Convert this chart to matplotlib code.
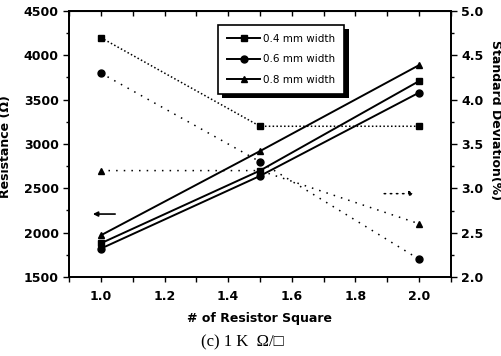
import matplotlib
matplotlib.use("Agg")
import matplotlib.pyplot as plt
from matplotlib.ticker import MultipleLocator
from matplotlib.patches import Rectangle

# =========================
# DATA
# =========================
squares = [1.0, 1.5, 2.0]
labels = ["0.4 mm width", "0.6 mm width", "0.8 mm width"]
markers = ["s", "o", "^"]

# resistance (ohm), solid lines
res_04 = [1880, 2700, 3710]
res_06 = [1820, 2640, 3580]
res_08 = [1970, 2920, 3890]

# standard deviation (%), dotted lines
std_04 = [4.7, 3.7, 3.7]
std_06 = [4.3, 3.3, 2.2]
std_08 = [3.2, 3.2, 2.6]

res_all = [res_04, res_06, res_08]
std_all = [std_04, std_06, std_08]
dots = [(0, (1, 1.5)), (0, (1, 4)), (0, (1, 4))]

plt.rcParams["font.family"] = "DejaVu Sans"

fig = plt.figure(figsize=(5.02, 3.56), dpi=100)
ax = fig.add_axes([69 / 502, 1 - 277 / 356, 382 / 502, 266 / 356])
ax2 = ax.twinx()

# =========================
# LINES
# =========================
handles = []
for r, m, lab in zip(res_all, markers, labels):
    h, = ax.plot(squares, r, color="black", lw=1.4, marker=m, ms=5, label=lab)
    handles.append(h)

for s, m, d in zip(std_all, markers, dots):
    ax2.plot(squares, s, color="black", lw=1.1, linestyle=d, marker=m, ms=5)

# =========================
# EJES
# =========================
ax.set_xlim(0.9, 2.1)
ax.set_ylim(1500, 4500)
ax2.set_ylim(2.0, 5.0)

ax.xaxis.set_major_locator(MultipleLocator(0.2))
ax.xaxis.set_minor_locator(MultipleLocator(0.1))
ax.yaxis.set_major_locator(MultipleLocator(500))
ax.yaxis.set_minor_locator(MultipleLocator(250))
ax2.yaxis.set_major_locator(MultipleLocator(0.5))
ax2.yaxis.set_minor_locator(MultipleLocator(0.25))
ax.xaxis.set_major_formatter(plt.FormatStrFormatter("%.1f"))
ax2.yaxis.set_major_formatter(plt.FormatStrFormatter("%.1f"))

ax.tick_params(axis="x", which="both", direction="out", length=3.5, width=1,
               top=False, labelsize=9, pad=6)
ax.tick_params(axis="y", which="major", direction="out", length=4, width=1,
               labelsize=9)
ax.tick_params(axis="y", which="minor", direction="out", length=2.5, width=1)
ax2.tick_params(axis="y", which="major", direction="out", length=4, width=1,
                labelsize=9)
ax2.tick_params(axis="y", which="minor", direction="out", length=2.5, width=1)

# top ticks pointing inward
ax_top = ax.secondary_xaxis("top")
ax_top.xaxis.set_major_locator(MultipleLocator(0.1))
ax_top.tick_params(direction="in", length=3.5, width=1, labeltop=False)

for lab in ax.get_xticklabels() + ax.get_yticklabels() + ax2.get_yticklabels():
    lab.set_fontweight("bold")

for a in (ax, ax2):
    for sp in a.spines.values():
        sp.set_linewidth(1.3)

ax.set_xlabel("# of Resistor Square", fontsize=9, fontweight="bold", labelpad=6)
ax.set_ylabel("Resistance (Ω)", fontsize=9, fontweight="bold")
ax.yaxis.set_label_coords(-0.15, 0.49)
ax2.set_ylabel("Standard Deviation(%)", fontsize=9, fontweight="bold",
               rotation=-90, va="center")
ax2.yaxis.set_label_coords(1.117, 0.59)

# =========================
# FLECHAS
# =========================
ax.annotate("", xy=(0.975, 2210), xytext=(1.045, 2210),
            arrowprops=dict(arrowstyle="-|>", color="black", lw=1.2,
                            mutation_scale=7, shrinkA=0, shrinkB=0))
ax2.annotate("", xy=(1.985, 2.94), xytext=(1.89, 2.94),
             arrowprops=dict(arrowstyle="-|>", color="black", lw=1.1,
                             linestyle=(0, (1, 3)), mutation_scale=7,
                             shrinkA=0, shrinkB=0))

# =========================
# LEYENDA
# =========================
leg = ax2.legend(handles=handles, loc="upper left",
                 bbox_to_anchor=((218 - 69) / 382, (277 - 25) / 266),
                 borderaxespad=0, fancybox=False, framealpha=1,
                 edgecolor="black", fontsize=7.5, handlelength=3.2,
                 handletextpad=0.3, labelspacing=1.0, borderpad=0.85)
leg.get_frame().set_linewidth(1.2)
leg.set_zorder(5)

ax2.patch.set_visible(False)
fig.canvas.draw()
bb = leg.get_window_extent().transformed(fig.transFigure.inverted())
dx, dy = 4.5 / 502, 4.5 / 356
shadow = Rectangle((bb.x0 + dx, bb.y0 - dy), bb.width, bb.height,
                   transform=fig.transFigure, facecolor="black",
                   edgecolor="none", zorder=4)
ax2.add_artist(shadow)

# =========================
# TITULO
# =========================
fig.text(0.5 * (202 + 282) / 502, 1 - 342 / 356, "(c) 1 K  Ω/□",
         ha="center", va="center", fontsize=12,
         family=["Liberation Serif", "DejaVu Serif", "DejaVu Sans"])

fig.savefig("out.png", dpi=100)
